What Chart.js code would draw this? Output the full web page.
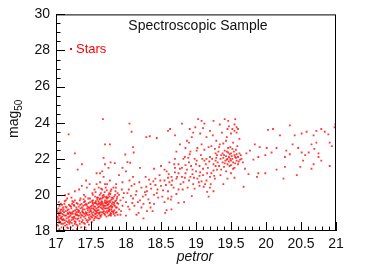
<!DOCTYPE html>
<html>
<head>
<meta charset="utf-8">
<script src="https://cdn.jsdelivr.net/npm/chart.js@4"></script>
<style>
  html, body { margin: 0; padding: 0; background: #fff; }
  #wrap { width: 374px; height: 270px; }
</style>
</head>
<body>
<div id="wrap"><canvas id="chart" width="374" height="270"></canvas></div>
<script>
// ── Data ────────────────────────────────────────────────────
const chartTitle = 'Spectroscopic Sample';
const seriesName = 'Stars';
const xTitle = 'petror';
const xTickLabels = ['17', '17.5', '18', '18.5', '19', '19.5', '20', '20.5', '21'];
const yTickLabels = ['18', '20', '22', '24', '26', '28', '30'];

// [petror, mag50]
const stars = [
    // 17.0 - 17.1
    [17.01,18.6],[17.02,19.1],[17.03,18.3],[17.04,18.9],[17.05,19.4],[17.06,18.5],[17.07,19.0],[17.08,18.2],
    [17.09,18.8],[17.1,19.3],[17.02,18.8],[17.04,19.6],[17.06,18.7],[17.08,19.2],[17.1,18.4],[17.03,19.0],
    [17.05,18.45],[17.07,19.5],[17.09,18.95],[17.01,19.2],[17.05,18.1],[17.08,18.65],[17.1,18.0],
    [17.015,18.35],[17.025,18.75],[17.035,19.25],[17.045,18.55],[17.055,18.85],[17.065,19.15],[17.075,18.4],
    [17.085,19.45],[17.095,18.6],[17.035,18.65],[17.055,19.05],[17.075,18.75],[17.095,19.1],
    // 17.1 - 17.2
    [17.11,18.9],[17.12,19.5],[17.13,18.3],[17.14,19.1],[17.15,18.7],[17.16,19.8],[17.17,18.5],[17.18,19.2],
    [17.19,18.8],[17.2,19.4],[17.12,18.6],[17.14,19.7],[17.16,18.2],[17.18,18.95],[17.2,18.5],[17.11,19.2],
    [17.13,18.85],[17.15,19.3],[17.17,19.0],[17.19,18.4],[17.13,19.98],[17.18,20.05],[17.12,18.05],[17.17,18.15],
    [17.105,18.65],[17.115,19.05],[17.125,18.45],[17.135,19.35],[17.145,18.85],[17.155,18.35],[17.165,19.15],
    [17.175,18.75],[17.185,19.45],[17.195,19.05],[17.125,19.65],[17.145,18.55],[17.165,18.95],[17.185,18.6],
    // 17.2 - 17.3
    [17.21,19.0],[17.22,18.6],[17.23,19.5],[17.24,18.3],[17.25,19.1],[17.26,18.8],[17.27,19.7],[17.28,18.5],
    [17.29,19.3],[17.3,18.9],[17.21,18.2],[17.23,18.75],[17.25,19.6],[17.27,18.4],[17.29,19.05],[17.22,19.25],
    [17.24,18.95],[17.26,19.4],[17.28,18.7],[17.3,19.2],[17.22,19.85],[17.27,20.2],[17.3,18.1],[17.24,18.05],
    [17.205,18.85],[17.215,19.35],[17.225,18.45],[17.235,19.05],[17.245,18.65],[17.255,19.45],[17.265,18.55],
    [17.275,19.15],[17.285,18.9],[17.295,18.35],[17.215,18.95],[17.235,19.65],[17.255,18.75],[17.275,18.95],
    [17.295,19.55],
    // 17.3 - 17.4
    [17.31,19.5],[17.32,18.7],[17.33,19.1],[17.34,18.4],[17.35,19.8],[17.36,18.9],[17.37,19.3],[17.38,18.6],
    [17.39,19.0],[17.4,19.6],[17.31,18.3],[17.33,18.85],[17.35,19.25],[17.37,18.5],[17.39,19.4],[17.32,19.15],
    [17.34,19.7],[17.36,18.2],[17.38,19.05],[17.4,18.8],[17.33,20.3],[17.37,20.5],[17.4,20.0],[17.35,18.0],
    [17.305,18.65],[17.315,19.05],[17.325,19.35],[17.335,18.55],[17.345,19.0],[17.355,18.75],[17.365,19.5],
    [17.375,18.85],[17.385,19.2],[17.395,18.45],[17.315,18.85],[17.345,19.45],[17.375,19.1],[17.395,19.75],
    // 17.4 - 17.5
    [17.41,19.2],[17.42,18.7],[17.43,19.5],[17.44,19.0],[17.45,18.5],[17.46,19.8],[17.47,19.3],[17.48,18.9],
    [17.49,19.6],[17.5,19.1],[17.41,18.4],[17.43,18.95],[17.45,19.35],[17.47,18.75],[17.49,19.15],[17.42,19.9],
    [17.44,19.45],[17.46,18.6],[17.48,19.25],[17.5,18.8],[17.44,20.4],[17.48,20.6],[17.42,18.2],[17.47,18.35],
    [17.43,18.05],[17.43,20.8],
    [17.405,18.95],[17.415,19.45],[17.425,19.05],[17.435,18.6],[17.445,19.25],[17.455,18.9],[17.465,19.55],
    [17.475,19.05],[17.485,18.65],[17.495,19.35],[17.425,18.85],[17.455,19.15],[17.485,19.8],[17.415,19.65],
    // 17.5 - 17.6
    [17.51,19.4],[17.52,18.9],[17.53,19.7],[17.54,19.2],[17.55,18.7],[17.56,19.9],[17.57,19.1],[17.58,19.5],
    [17.59,18.85],[17.6,19.3],[17.51,19.0],[17.53,19.25],[17.55,19.55],[17.57,18.95],[17.59,19.75],[17.52,20.1],
    [17.54,18.6],[17.56,19.35],[17.58,19.05],[17.6,19.85],[17.51,18.5],[17.55,20.3],[17.58,20.6],[17.6,18.7],
    [17.53,19.45],[17.57,19.65],[17.59,19.15],[17.56,18.8],[17.58,21.2],
    [17.505,19.25],[17.515,18.75],[17.525,19.55],[17.535,19.05],[17.545,19.35],[17.555,18.95],[17.565,19.55],
    [17.575,19.25],[17.585,19.85],[17.595,19.45],[17.515,19.65],[17.535,18.85],[17.555,19.15],[17.575,18.75],
    [17.595,19.0],[17.525,20.0],[17.565,20.15],
    // 17.6 - 17.7
    [17.61,19.5],[17.62,19.0],[17.63,19.8],[17.64,19.3],[17.65,18.9],[17.66,19.6],[17.67,19.2],[17.68,20.0],
    [17.69,19.4],[17.7,19.7],[17.61,19.15],[17.62,19.55],[17.63,18.85],[17.64,20.1],[17.65,19.45],[17.66,19.05],
    [17.67,19.85],[17.68,19.3],[17.69,18.95],[17.7,19.25],[17.61,20.4],[17.63,20.7],[17.66,20.3],[17.68,21.0],
    [17.7,20.6],[17.62,18.7],[17.65,19.65],[17.67,19.5],[17.69,19.9],[17.64,18.8],[17.7,18.9],[17.66,21.3],
    [17.605,19.65],[17.615,19.35],[17.625,19.75],[17.635,19.05],[17.645,19.55],[17.655,19.25],[17.665,19.95],
    [17.675,19.4],[17.685,19.1],[17.695,19.6],[17.615,18.95],[17.635,19.45],[17.655,19.8],[17.675,19.0],
    [17.695,20.15],[17.645,20.35],[17.625,20.0],
    // 17.7 - 17.8
    [17.71,19.4],[17.72,19.9],[17.73,19.1],[17.74,19.6],[17.75,19.3],[17.76,20.1],[17.77,18.9],[17.78,19.7],
    [17.79,19.2],[17.8,19.5],[17.71,19.05],[17.72,19.55],[17.73,19.8],[17.74,19.25],[17.75,18.85],[17.76,19.65],
    [17.77,19.35],[17.78,20.2],[17.79,18.95],[17.8,19.85],[17.71,20.4],[17.73,20.6],[17.75,20.0],[17.77,20.8],
    [17.79,20.3],[17.72,18.8],[17.74,19.45],[17.76,19.15],[17.78,19.0],[17.8,19.3],[17.75,21.5],[17.78,21.8],
    [17.705,19.55],[17.715,19.25],[17.725,19.65],[17.735,19.45],[17.745,19.85],[17.755,19.5],[17.765,19.2],
    [17.775,19.6],[17.785,19.4],[17.795,19.75],[17.715,19.85],[17.735,19.0],[17.755,19.1],[17.775,20.05],
    [17.795,19.1],[17.725,20.25],[17.765,19.9],[17.785,18.85],
    // 17.8 - 18.0
    [17.81,19.6],[17.82,19.1],[17.83,19.9],[17.84,19.4],[17.85,19.0],[17.86,19.7],[17.87,19.3],[17.88,20.1],
    [17.89,19.5],[17.9,19.2],[17.82,20.4],[17.84,18.85],[17.86,20.6],[17.88,18.9],[17.83,19.55],[17.85,20.2],
    [17.87,19.8],[17.9,20.0],[17.92,19.7],[17.94,20.3],[17.95,19.4],[17.97,20.1],[17.92,18.9],[17.84,21.76],
    [17.93,19.1],[17.96,19.85],[17.95,21.5],[17.9,21.1],[17.95,20.7],
    [17.805,19.35],[17.815,19.8],[17.825,19.45],[17.835,19.15],[17.845,19.65],[17.855,19.3],[17.865,19.05],
    [17.875,19.55],[17.815,19.05],[17.845,20.0],[17.875,19.9],[17.825,18.95],[17.855,20.4],
    // 18.0 - 18.5
    [18.0,19.6],[18.02,20.1],[18.05,19.2],[18.08,20.5],[18.1,19.8],[18.12,19.4],[18.15,20.2],[18.18,19.0],
    [18.2,19.7],[18.22,20.4],[18.25,19.5],[18.28,20.0],[18.3,19.1],[18.05,20.8],[18.1,21.0],[18.15,18.9],
    [18.25,18.7],[18.0,21.3],[18.06,21.78],[18.2,21.5],[18.0,18.85],[18.03,19.35],[18.07,19.95],[18.12,20.6],
    [18.17,19.6],[18.22,19.3],[18.27,20.15],[18.32,19.75],[18.36,20.35],[18.38,19.1],[18.42,20.55],[18.46,19.85],
    [18.28,21.0],[18.33,20.85],[17.99,22.24],[18.02,21.82],
    [18.3,20.2],[18.35,20.6],[18.4,20.0],[18.42,20.9],[18.45,20.3],[18.48,21.1],[18.4,19.5],[18.35,19.3],
    [18.4,21.45],
    [18.04,20.3],[18.09,19.55],[18.14,20.0],[18.19,20.7],[18.24,19.9],[18.29,20.45],[18.34,19.55],[18.39,20.75],
    [18.44,20.1],[18.49,20.8],
    // 18.5 - 18.8
    [18.5,20.5],[18.52,19.9],[18.55,20.8],[18.58,21.3],[18.6,20.2],[18.62,20.7],[18.65,21.0],[18.68,20.4],
    [18.7,21.5],[18.72,20.9],[18.75,21.2],[18.78,20.6],[18.6,19.8],[18.55,19.6],[18.56,19.0],[18.65,19.2],
    [18.64,19.74],[18.5,21.6],[18.62,21.8],[18.7,22.0],[18.75,21.7],[18.75,19.56],[18.58,19.16],[18.65,19.9],
    [18.55,21.4],[18.6,20.95],[18.65,20.55],[18.7,21.25],[18.75,20.3],[18.72,20.05],
    [18.53,20.25],[18.57,20.55],[18.61,21.15],[18.66,20.8],[18.69,21.7],[18.73,21.0],[18.77,21.45],
    // 18.8 - 19.3
    [18.8,21.5],[18.85,21.2],[18.9,21.8],[18.92,21.0],[18.95,21.4],[18.98,22.0],[19.0,21.3],[19.02,20.9],
    [19.05,21.6],[19.07,22.2],[19.1,21.1],[19.12,21.9],[19.15,20.8],[19.17,21.5],[19.2,22.1],[19.22,21.2],
    [19.25,21.7],[19.27,20.9],[19.28,22.3],[19.3,21.4],[18.82,20.7],[18.88,20.4],[18.96,20.6],[19.05,20.5],
    [19.13,20.6],[19.2,20.4],[19.25,20.2],[19.16,20.17],[19.18,19.9],[18.94,19.93],[18.83,19.6],
    [18.8,21.0],[18.85,21.65],[18.9,20.8],[18.95,21.15],[19.0,21.7],[19.05,21.05],[19.1,21.45],[19.15,22.0],
    [19.2,21.0],[19.25,21.35],[19.28,21.6],[18.82,22.0],[18.92,22.4],[19.02,22.6],[19.12,22.5],[19.22,22.7],
    [18.98,20.35],[19.08,20.75],
    [18.81,20.3],[18.84,20.95],[18.87,21.4],[18.89,22.05],[18.93,21.6],[18.97,20.95],[19.01,21.9],[19.04,20.7],
    [19.06,21.25],[19.09,22.0],[19.11,20.45],[19.14,21.7],[19.16,21.2],[19.19,21.85],[19.21,20.6],[19.23,22.0],
    [19.26,21.05],[19.29,22.05],
    // 19.3 - 19.7 dense group
    [19.35,22.0],[19.38,21.8],[19.4,22.2],[19.42,21.9],[19.44,22.4],[19.45,21.7],[19.47,22.1],[19.48,21.6],
    [19.5,22.3],[19.5,21.9],[19.52,22.0],[19.53,21.8],[19.55,22.2],[19.55,21.5],[19.57,22.5],[19.58,21.9],
    [19.6,22.1],[19.6,21.7],[19.62,22.3],[19.63,21.95],[19.46,22.6],[19.41,22.45],[19.38,22.3],[19.33,21.6],
    [19.36,21.4],[19.43,21.3],[19.5,21.65],[19.56,21.75],[19.52,22.55],[19.59,22.7],[19.45,22.0],[19.48,22.25],
    [19.4,21.55],[19.53,21.45],[19.65,22.0],[19.67,21.8],[19.3,22.2],[19.28,21.9],[19.32,22.4],[19.57,22.05],
    [19.35,21.1],[19.39,20.6],[19.45,20.9],[19.5,21.2],[19.55,20.95],
    [19.31,21.8],[19.33,22.65],[19.36,22.2],[19.39,22.05],[19.41,21.75],[19.43,22.15],[19.44,21.95],[19.46,22.35],
    [19.47,21.85],[19.49,22.0],[19.51,22.15],[19.54,22.4],[19.56,22.1],[19.58,22.25],[19.61,21.85],[19.64,22.2],
    // upper part 18.6 - 19.7
    [19.03,24.2],[19.08,24.1],[19.12,23.95],[19.25,24.1],[19.34,23.9],[19.41,24.2],[19.46,24.1],[19.56,24.2],
    [19.58,23.75],[19.55,23.55],[19.5,23.4],[19.6,23.65],[19.45,23.65],[19.37,23.45],[19.2,23.55],[19.15,23.2],
    [19.06,23.4],[18.96,23.45],[18.94,23.2],[18.87,23.0],[18.8,23.95],[18.91,23.65],[18.99,23.75],[18.63,23.65],
    [18.6,23.55],[18.7,23.3],[18.77,22.8],[19.29,23.0],[19.34,22.8],[19.43,23.0],[19.53,22.9],[19.49,22.65],
    [19.27,22.55],[19.18,22.65],[19.08,22.8],[19.01,22.45],[18.91,22.25],[18.84,22.1],
    [19.44,23.2],[19.52,23.65],[19.55,23.9],[19.58,23.45],[19.47,23.8],[19.39,22.85],[19.62,23.1],[19.24,23.3],
    [19.1,23.7],[18.85,22.6],[18.72,22.4],[18.9,22.9],
    // 19.7 - 21.0
    [20.99,23.9],[20.98,23.75],[20.79,23.65],[20.84,23.5],[20.89,23.35],[20.72,23.55],[20.68,23.3],[20.58,23.5],
    [20.51,23.4],[20.34,23.85],[20.41,23.3],[20.1,23.65],[20.03,23.6],[20.2,23.3],[20.91,22.9],[20.94,22.7],
    [20.72,22.9],[20.65,22.8],[20.38,22.8],[20.46,22.6],[20.51,22.35],[20.56,22.2],[20.61,22.35],[20.69,22.55],
    [20.75,22.3],[20.29,22.45],[20.34,22.25],[20.27,22.1],[20.15,22.6],[20.08,22.35],[20.01,22.6],[19.91,22.65],
    [19.99,22.2],[19.89,22.1],[19.84,22.8],[19.77,22.45],[19.72,22.3],[19.82,21.95],[20.91,21.6],[20.79,21.9],
    [20.68,21.7],[20.65,21.45],[20.75,22.1],[20.53,21.9],[20.49,21.55],[20.44,21.1],[20.27,21.55],[20.25,20.9],
    [20.15,21.4],[19.99,21.2],[19.89,21.2],[19.87,21.0],[19.7,21.45],[19.75,21.15],[19.68,20.45],
    // scattered high outliers at low petror
    [17.67,24.2],[17.18,23.35],[18.05,23.95],[18.08,23.5],[17.7,22.8],[17.77,22.8],[17.27,22.3],[18.1,22.65],
    [18.11,22.35],[18.29,23.2],[18.34,23.25],[18.44,23.15],[17.68,22.05],[17.7,21.7],[17.37,21.7],[17.31,21.4],
    [17.63,21.2]
];

// ── Layout of the plot frame (pixels) ───────────────────────
const frame = { left: 56, right: 336, top: 13, bottom: 231 };
const fontFamily = '"Liberation Sans", Arial, Helvetica, sans-serif';

// ── Frame, inner ticks, titles, legend ──────────────────────
const decorations = {
    id: 'decorations',
    afterDraw(chart) {
        const { ctx, chartArea: a, scales: { x, y } } = chart;
        ctx.save();
        ctx.strokeStyle = '#000';
        ctx.lineWidth = 1;

        // minor / major ticks pointing inward
        ctx.beginPath();
        for (let i = 0; i <= 40; i++) {
            const px = Math.round(x.getPixelForValue(17 + i * 0.1)) + 0.5;
            const len = i % 5 === 0 ? 9 : 4.5;
            ctx.moveTo(px, a.bottom);
            ctx.lineTo(px, a.bottom - len);
        }
        for (let i = 0; i <= 24; i++) {
            const py = Math.round(y.getPixelForValue(18 + i * 0.5)) + 0.5;
            const len = i % 4 === 0 ? 9 : 4.5;
            ctx.moveTo(a.left, py);
            ctx.lineTo(a.left + len, py);
        }
        ctx.stroke();

        // frame
        ctx.strokeRect(a.left + 0.5, a.top + 0.5, a.right - a.left - 1, a.bottom - a.top - 1);

        // title
        ctx.fillStyle = '#111';
        ctx.font = '14px ' + fontFamily;
        ctx.textAlign = 'center';
        ctx.textBaseline = 'middle';
        ctx.fillText(chartTitle, 198, 26);

        // legend
        ctx.fillStyle = '#ff0000';
        ctx.fillRect(70, 48, 2, 2);
        ctx.font = '13px ' + fontFamily;
        ctx.textAlign = 'left';
        ctx.fillText(seriesName, 76, 49);

        // x title
        ctx.fillStyle = '#111';
        ctx.font = 'italic 14px ' + fontFamily;
        ctx.textAlign = 'center';
        ctx.fillText(xTitle, 195, 257);

        // y title: mag with subscript 50
        ctx.translate(14, 124);
        ctx.rotate(-Math.PI / 2);
        ctx.textAlign = 'left';
        ctx.font = '14px ' + fontFamily;
        const w = ctx.measureText('mag').width;
        ctx.fillText('mag', -14, 0);
        ctx.font = '10px ' + fontFamily;
        ctx.fillText('50', -14 + w, 5);
        ctx.restore();
    }
};

new Chart(document.getElementById('chart'), {
    type: 'scatter',
    data: {
        datasets: [{
            label: seriesName,
            data: stars.map(p => ({ x: p[0], y: p[1] })),
            pointStyle: 'rect',
            pointRadius: 1.3,
            pointHoverRadius: 1.3,
            borderWidth: 0,
            backgroundColor: 'rgba(255,10,10,0.8)'
        }]
    },
    options: {
        responsive: false,
        animation: false,
        layout: { padding: { top: frame.top, right: 374 - frame.right, left: 0, bottom: 0 } },
        plugins: { legend: { display: false }, tooltip: { enabled: false }, title: { display: false } },
        scales: {
            x: {
                type: 'linear', min: 17, max: 21,
                grid: { display: false, drawTicks: false },
                border: { display: false },
                ticks: {
                    stepSize: 0.5, padding: 5, color: '#111', maxRotation: 0,
                    font: { family: fontFamily, size: 14 },
                    callback: (v) => xTickLabels[Math.round((v - 17) / 0.5)]
                },
                afterFit: (s) => { s.height = 270 - frame.bottom; }
            },
            y: {
                type: 'linear', min: 18, max: 30,
                grid: { display: false, drawTicks: false },
                border: { display: false },
                ticks: {
                    stepSize: 2, padding: 6, color: '#111',
                    font: { family: fontFamily, size: 14 },
                    callback: (v) => yTickLabels[Math.round((v - 18) / 2)]
                },
                afterFit: (s) => { s.width = frame.left; }
            }
        }
    },
    plugins: [decorations]
});
</script>
</body>
</html>
